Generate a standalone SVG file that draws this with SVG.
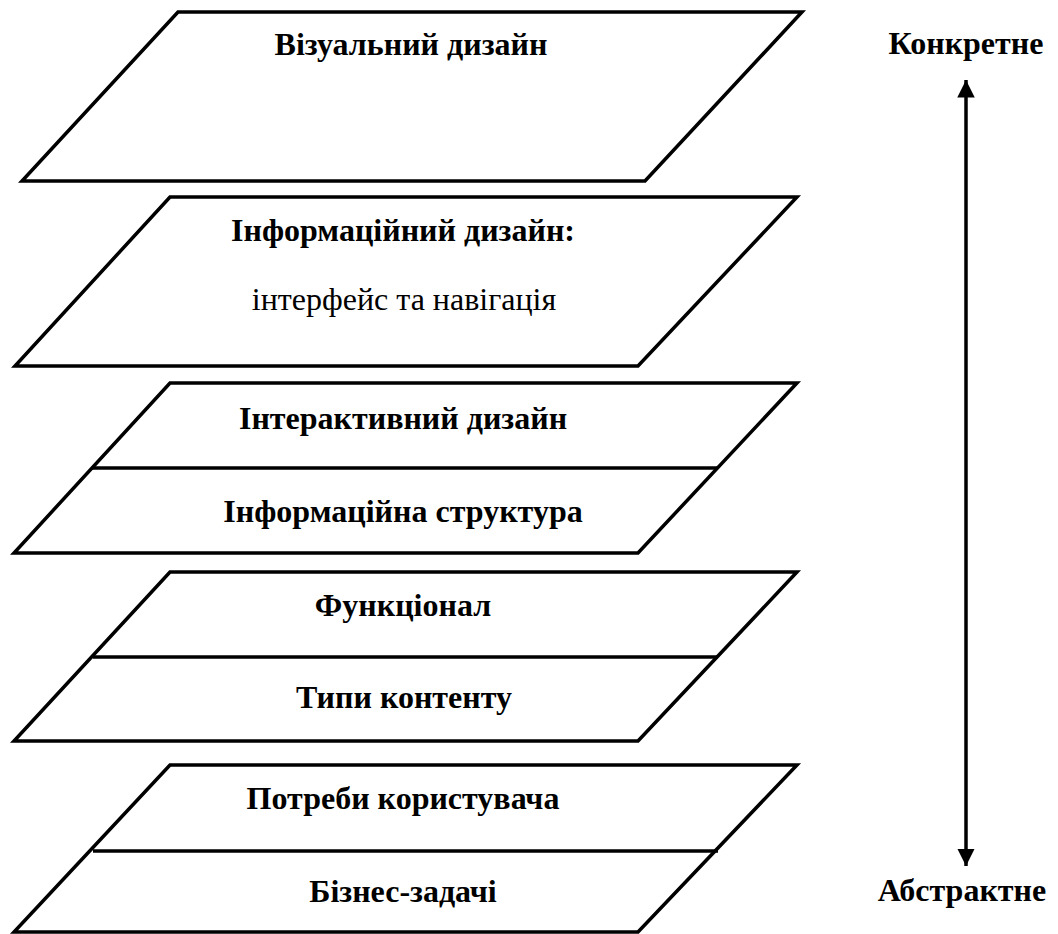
<svg xmlns="http://www.w3.org/2000/svg" width="1058" height="934" viewBox="0 0 1058 934">
<style>
.shape{fill:#fff;stroke:#000;stroke-width:3.5;stroke-linejoin:miter}
.div{stroke:#000;stroke-width:3.5;fill:none}
.b{font-family:"Liberation Serif","Times New Roman",serif;font-weight:bold;font-size:32px;text-anchor:middle;fill:#000}
.r{font-family:"Liberation Serif","Times New Roman",serif;font-size:32px;text-anchor:middle;fill:#000}
.conn{stroke:#000;stroke-width:3.5;fill:none}
</style>
<defs>
<marker id="ah" viewBox="0 0 10 10" refX="10" refY="5" markerWidth="5" markerHeight="5" orient="auto-start-reverse" markerUnits="strokeWidth">
<path d="M0,0 L10,5 L0,10 Z" fill="#000"/>
</marker>
</defs>
<rect width="1058" height="934" fill="#fff"/>
<g id="layer-visual">
<polygon class="shape" points="178,12 802,12 645,181 22,181"/>
<text class="b" x="411" y="55">Візуальний дизайн</text>
</g>
<g id="layer-info-design">
<polygon class="shape" points="170,197 797,197 638,366 15,366"/>
<text class="b" x="403" y="241">Інформаційний дизайн:</text>
<text class="r" x="404" y="310">інтерфейс та навігація</text>
</g>
<g id="layer-interaction">
<polygon class="shape" points="170,383 797,383 638,553 14,553"/>
<line class="div" x1="92" y1="468" x2="718" y2="468"/>
<text class="b" x="403" y="429">Інтерактивний дизайн</text>
<text class="b" x="403" y="522">Інформаційна структура</text>
</g>
<g id="layer-function">
<polygon class="shape" points="170,572 797,572 638,741 14,741"/>
<line class="div" x1="93" y1="657" x2="718" y2="657"/>
<text class="b" x="403" y="616">Функціонал</text>
<text class="b" x="404" y="708">Типи контенту</text>
</g>
<g id="layer-needs">
<polygon class="shape" points="170,765 797,765 638,932 14,932"/>
<line class="div" x1="93" y1="851" x2="718" y2="851"/>
<text class="b" x="403" y="809">Потреби користувача</text>
<text class="b" x="403" y="902">Бізнес-задачі</text>
</g>
<g id="connectors">
<line class="conn" x1="966" y1="80" x2="966" y2="866" marker-start="url(#ah)" marker-end="url(#ah)"/>
</g>
<g id="labels">
<text class="b" x="966" y="54">Конкретне</text>
<text class="b" x="962" y="901">Абстрактне</text>
</g>
</svg>
